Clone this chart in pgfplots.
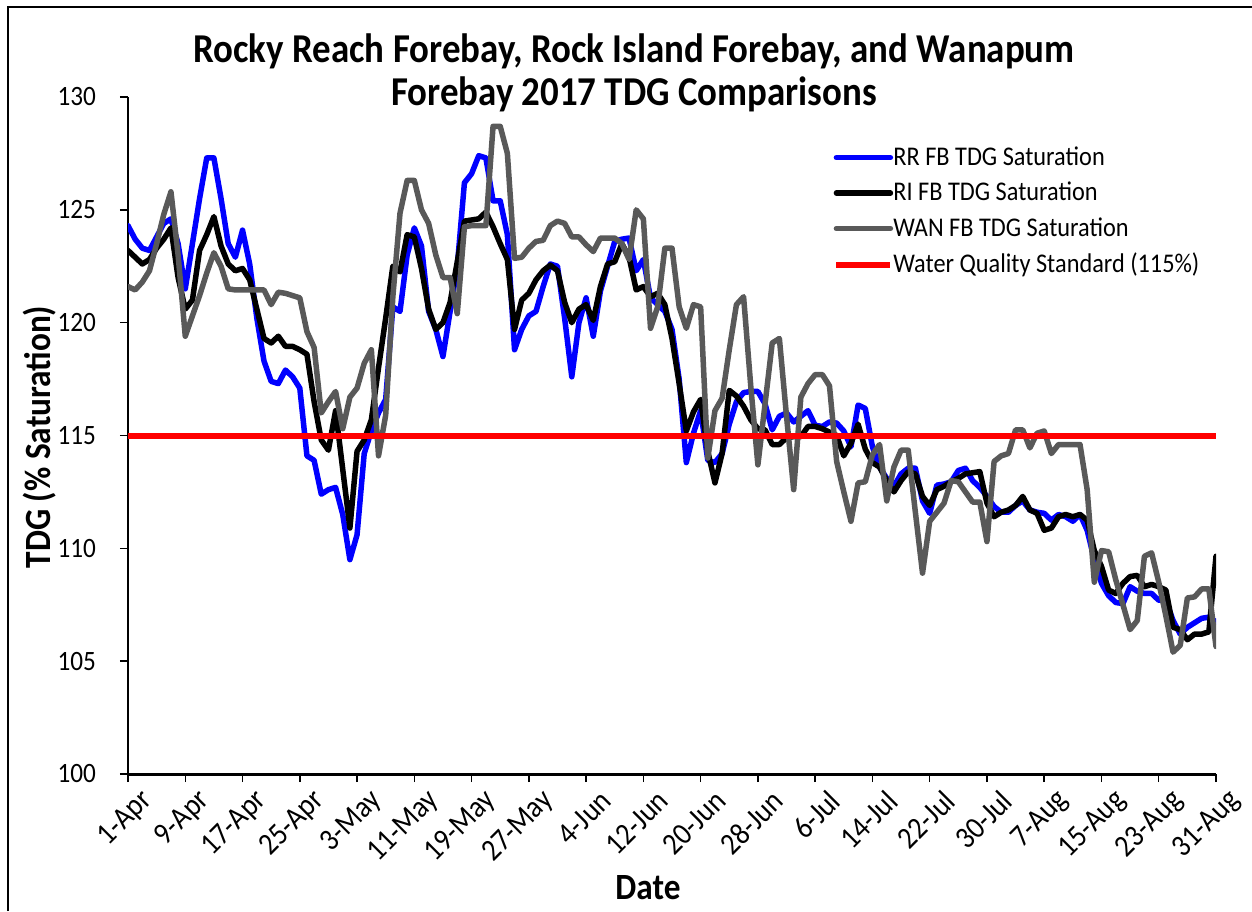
\documentclass[border=0pt]{standalone}
\usepackage{fontspec}
\setmainfont{Carlito}[FakeStretch=0.9]
\usepackage{pgfplots}
\pgfplotsset{compat=1.18}
\usepackage{pgfplotstable}

\definecolor{rrblue}{RGB}{0,0,255}
\definecolor{wangray}{RGB}{89,89,89}
\definecolor{stdred}{RGB}{255,0,0}

% day 0 = 1-Apr, day 152 = 31-Aug
\pgfplotstableread{
day rr ri wan
0 124.3 123.2 121.6
1 123.7 122.9 121.45
2 123.3 122.6 121.8
3 123.2 122.8 122.3
4 123.8 123.3 123.5
5 124.4 123.7 124.8
6 124.6 124.2 125.8
7 123.5 122.0 123.0
8 121.5 120.6 119.4
9 123.5 121.0 120.3
10 125.5 123.2 121.2
11 127.3 123.9 122.2
12 127.3 124.7 123.1
13 125.5 123.4 122.5
14 123.5 122.6 121.5
15 122.9 122.3 121.45
16 124.1 122.4 121.45
17 122.6 121.9 121.45
18 120.2 120.6 121.45
19 118.3 119.3 121.45
20 117.4 119.1 120.8
21 117.3 119.4 121.35
22 117.9 118.95 121.3
23 117.6 118.95 121.2
24 117.1 118.8 121.1
25 114.1 118.6 119.6
26 113.9 116.5 118.9
27 112.4 114.8 116.0
28 112.6 114.35 116.5
29 112.7 116.1 116.95
30 111.5 113.5 115.3
31 109.5 110.9 116.7
32 110.6 114.3 117.1
33 114.2 114.8 118.2
34 115.2 115.7 118.8
35 116.0 118.0 114.1
36 116.6 120.2 115.9
37 120.7 122.5 121.15
38 120.5 122.25 124.85
39 123.0 123.9 126.3
40 124.2 123.8 126.3
41 123.4 122.4 125.0
42 120.5 120.6 124.4
43 119.7 119.7 123.0
44 118.5 120.0 122.0
45 120.5 120.9 122.0
46 122.5 122.7 120.4
47 126.2 124.5 124.25
48 126.6 124.55 124.3
49 127.4 124.6 124.3
50 127.3 124.9 124.3
51 125.4 124.25 128.7
52 125.4 123.5 128.7
53 123.9 122.8 127.5
54 118.8 119.7 122.85
55 119.7 121.0 122.9
56 120.3 121.3 123.3
57 120.5 121.9 123.6
58 121.6 122.3 123.65
59 122.6 122.55 124.3
60 122.5 122.3 124.5
61 120.2 120.9 124.4
62 117.6 120.0 123.8
63 120.0 120.6 123.8
64 121.1 120.8 123.45
65 119.4 120.1 123.15
66 121.4 121.6 123.75
67 122.5 122.6 123.75
68 123.6 122.7 123.75
69 123.7 123.5 123.5
70 123.75 122.9 122.8
71 122.3 121.45 125.0
72 122.8 121.6 124.6
73 121.1 121.15 119.75
74 120.8 121.3 120.7
75 120.5 120.8 123.3
76 119.7 119.3 123.3
77 117.5 117.3 120.7
78 113.8 115.2 119.75
79 115.1 116.05 120.8
80 116.1 116.6 120.7
81 113.9 114.3 114.0
82 113.8 112.9 116.1
83 114.2 114.2 116.65
84 115.5 117.0 118.8
85 116.5 116.75 120.8
86 116.9 116.3 121.15
87 116.95 115.7 117.2
88 116.95 115.3 113.7
89 116.4 115.25 116.4
90 115.25 114.6 119.1
91 115.85 114.6 119.3
92 116.0 114.9 115.85
93 115.6 114.95 112.6
94 115.85 114.95 116.7
95 116.1 115.4 117.3
96 115.45 115.4 117.7
97 115.4 115.3 117.7
98 115.6 115.15 117.2
99 115.55 115.0 113.85
100 115.2 114.1 112.5
101 114.5 114.65 111.2
102 116.35 115.5 112.9
103 116.2 114.4 112.95
104 114.5 113.8 114.15
105 113.6 113.6 114.6
106 113.1 113.0 112.1
107 112.75 112.5 113.6
108 113.3 113.0 114.35
109 113.55 113.4 114.35
110 113.55 113.3 111.6
111 112.1 112.3 108.9
112 111.55 111.9 111.2
113 112.8 112.6 111.6
114 112.85 112.75 112.0
115 112.95 112.95 113.0
116 113.45 113.1 112.95
117 113.55 113.3 112.5
118 113.0 113.35 112.05
119 112.7 113.4 112.05
120 112.3 112.0 110.3
121 111.85 111.4 113.85
122 111.6 111.6 114.1
123 111.6 111.7 114.2
124 111.9 111.9 115.25
125 112.1 112.3 115.25
126 111.7 111.7 114.45
127 111.6 111.55 115.1
128 111.55 110.8 115.2
129 111.25 110.9 114.2
130 111.5 111.4 114.6
131 111.4 111.5 114.6
132 111.2 111.4 114.6
133 111.5 111.5 114.6
134 110.8 111.25 112.6
135 109.5 109.9 108.5
136 108.45 109.2 109.9
137 107.9 108.15 109.85
138 107.6 108.0 108.6
139 107.55 108.45 107.5
140 108.3 108.75 106.4
141 108.1 108.8 106.8
142 108.0 108.3 109.65
143 108.0 108.4 109.8
144 107.7 108.3 108.5
145 107.7 108.15 107.0
146 106.8 106.5 105.4
147 106.2 106.4 105.7
148 106.5 105.95 107.8
149 106.7 106.2 107.85
150 106.9 106.2 108.2
151 106.95 106.3 108.2
152 106.75 109.65 105.65
}\tdg

\begin{document}
\begin{tikzpicture}
\useasboundingbox (0,0) rectangle (626pt,455.5pt);
\draw[line width=1pt] (4pt,0) -- (4pt,452pt) -- (626pt,452pt);
\begin{axis}[
    at={(64pt,68.5pt)}, anchor=south west,
    scale only axis, width=544pt, height=338.5pt,
    xmin=0, xmax=152, ymin=100, ymax=130,
    axis lines*=left,
    x axis line style={line width=1.5pt,-},
    y axis line style={line width=0.75pt,-},
    tick align=outside,
    major tick length=4pt,
    tick style={black, line width=0.75pt},
    xtick={0,8,...,152},
    xticklabels={1-Apr,9-Apr,17-Apr,25-Apr,3-May,11-May,19-May,27-May,4-Jun,12-Jun,20-Jun,28-Jun,6-Jul,14-Jul,22-Jul,30-Jul,7-Aug,15-Aug,23-Aug,31-Aug},
    ytick={100,105,...,130},
    /pgf/number format/assume math mode=true,
    tick label style={font=\fontsize{14}{16}\selectfont},
    yticklabel style={xshift=-8.5pt},
    xticklabel style={rotate=45, anchor=east, xshift=5.5pt, yshift=-12pt,
        font=\fontsize{15.5}{18}\selectfont},
    legend cell align=left,
    legend style={at={(0.648,0.927)}, anchor=north west, draw=none, fill=none,
        font=\fontsize{13.5}{16}\selectfont, row sep=6.9pt, inner sep=0pt,
        nodes={inner sep=0pt}},
    /tikz/every even column/.append style={column sep=5.5pt},
    legend image code/.code={\draw[#1] (0pt,0pt) -- (27pt,0pt);},
    every axis plot/.append style={line join=round, line cap=round},
]
\addplot[rrblue, line width=2.75pt] table[x=day, y=rr] {\tdg};
\addlegendentry{RR FB TDG Saturation}
\addplot[black, line width=2.75pt] table[x=day, y=ri] {\tdg};
\addlegendentry{RI FB TDG Saturation}
\addplot[wangray, line width=2.75pt] table[x=day, y=wan] {\tdg};
\addlegendentry{WAN FB TDG Saturation}
\addplot[stdred, line width=3pt, line cap=butt] coordinates {(0,115) (152,115)};
\addlegendentry{Water Quality Standard (115\%)}
\end{axis}
\node[anchor=base, font=\bfseries\fontsize{20.5}{24}\selectfont] at (317pt,424pt) {Rocky Reach Forebay, Rock Island Forebay, and Wanapum};
\node[anchor=base, font=\bfseries\fontsize{20.5}{24}\selectfont] at (317pt,402.5pt) {Forebay 2017 TDG Comparisons};
\node[anchor=base, rotate=90, font=\bfseries\fontsize{18.5}{22}\selectfont] at (25pt,237pt) {TDG (\% Saturation)};
\node[anchor=base, font=\bfseries\fontsize{18.5}{22}\selectfont] at (324pt,6pt) {Date};
\end{tikzpicture}
\end{document}
